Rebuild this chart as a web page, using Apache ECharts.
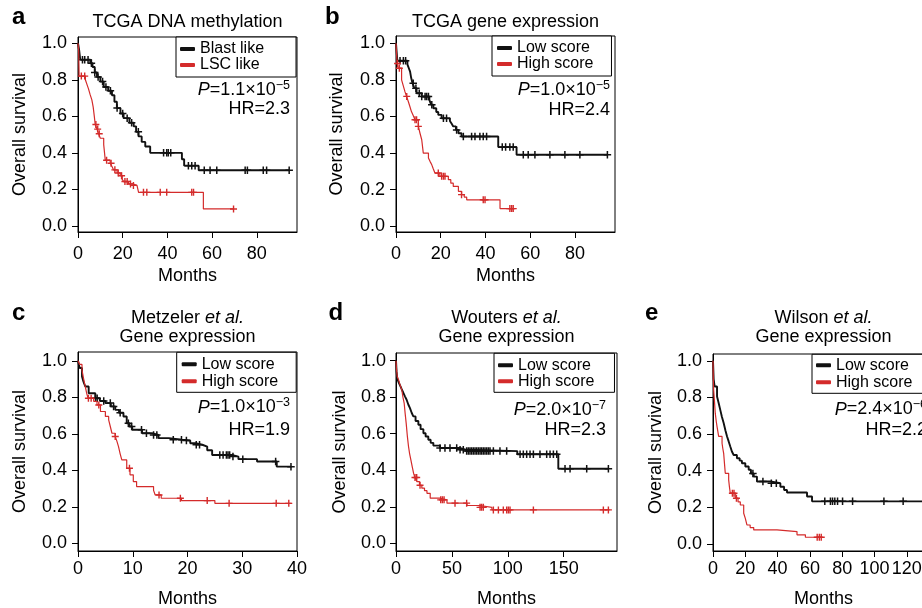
<!DOCTYPE html>
<html><head><meta charset="utf-8">
<script src="https://cdn.jsdelivr.net/npm/echarts@6/dist/echarts.min.js"></script>
<style>html,body{margin:0;padding:0;background:#fff}#c{width:922px;height:608px}</style>
</head><body><div id="c"></div>
<script>
const FONT = '"Liberation Sans", Arial, Helvetica, sans-serif';
const BLACK = '#111111', RED = '#d42b2b';

// ---------- tick labels ----------
const yTicks = [0, 0.2, 0.4, 0.6, 0.8, 1.0];
const xTicksA = [0, 20, 40, 60, 80];
const xTicksB = [0, 20, 40, 60, 80];
const xTicksC = [0, 10, 20, 30, 40];
const xTicksD = [0, 50, 100, 150];
const xTicksE = [0, 20, 40, 60, 80, 100, 120];

// ---------- texts ----------
const panelLetters = ['a', 'b', 'c', 'd', 'e'];
const titleLine1 = ['TCGA DNA methylation', 'TCGA gene expression', 'Metzeler {i|et al.}', 'Wouters {i|et al.}', 'Wilson {i|et al.}'];
const titleLine2 = ['', '', 'Gene expression', 'Gene expression', 'Gene expression'];
const seriesNames = [['Blast like', 'LSC like'], ['Low score', 'High score'], ['Low score', 'High score'], ['Low score', 'High score'], ['Low score', 'High score']];
const pMantissa = ['1.1', '1.0', '1.0', '2.0', '2.4'];
const pExponent = ['−5', '−5', '−3', '−7', '−6'];
const hrValues = ['2.3', '2.4', '1.9', '2.3', '2.2'];

// ---------- survival curves: [months, survival] after each event ----------
const aBlack = [[0,1],[0.5,0.963],[1,0.91],[5.5,0.89],[6.5,0.87],[7.5,0.84],[8.5,0.815],[10,0.79],[11.5,0.76],[13.5,0.74],[15.2,0.715],[16.3,0.68],[17.4,0.645],[19,0.615],[20.4,0.59],[23,0.565],[24.9,0.545],[26,0.515],[27.1,0.49],[28.5,0.46],[30.1,0.435],[32.3,0.4],[46.5,0.365],[47.5,0.33],[54,0.305],[94.5,0.305]];
const aBlackCensor = [2,3,4.5,6,7.5,9,11,12.5,14.5,17.5,20,22,24,27,38.3,39.7,40.4,41.5,49.4,50.9,52.4,56.5,59.1,62.1,74.8,75.8,82.9,84.4,94.5];
const aRed = [[0,1],[0.3,0.96],[0.5,0.82],[3.3,0.8],[4,0.775],[4.7,0.75],[5.4,0.72],[6.2,0.69],[6.8,0.65],[7.3,0.6],[7.7,0.555],[8.5,0.53],[9.2,0.505],[10,0.48],[11.5,0.445],[12.2,0.36],[14.4,0.343],[15.2,0.325],[15.9,0.307],[17.5,0.29],[18.9,0.275],[19.8,0.255],[20.4,0.243],[22.6,0.23],[24.5,0.222],[26.4,0.214],[27.1,0.184],[56.1,0.093],[69.6,0.093]];
const aRedCensor = [1.5,3,8,8.8,9.5,12.8,14.8,16.5,18,19.5,21,22,23.5,24.8,29.3,30.8,36.8,39.7,50.9,51.7,69.6];

const bBlack = [[0,1],[0.3,0.95],[0.6,0.905],[5.1,0.885],[5.7,0.865],[6.3,0.845],[6.8,0.81],[7.4,0.782],[8.2,0.755],[9.2,0.727],[11.5,0.709],[14.9,0.691],[15.7,0.665],[16.7,0.645],[18,0.625],[18.9,0.609],[20.4,0.59],[24.1,0.575],[24.9,0.56],[25.6,0.546],[26.8,0.527],[27.9,0.509],[29.3,0.491],[45.7,0.433],[53.9,0.391],[94.5,0.391]];
const bBlackCensor = [1.8,3.3,4.3,7.7,8.9,10.4,11.5,13,13.7,14.5,16,21.2,22.6,27.1,30.1,33.8,35.3,37.5,39,40.5,47.5,49,50.9,52.4,56.9,59.1,62.1,68.8,75.5,82.2,94.5];
const bRed = [[0,1],[0.2,0.955],[0.5,0.89],[1,0.864],[2.5,0.8],[3.2,0.77],[4,0.736],[4.7,0.71],[5.5,0.682],[6.2,0.655],[6.9,0.627],[7.7,0.605],[8.5,0.582],[10,0.546],[10.7,0.51],[11.5,0.473],[12.2,0.4],[14.5,0.373],[15.2,0.355],[16,0.336],[16.7,0.313],[17.4,0.291],[19.6,0.273],[23.4,0.255],[24.5,0.236],[25.6,0.218],[27.9,0.191],[29.3,0.173],[30.5,0.16],[31.6,0.145],[46.5,0.097],[52.4,0.097]];
const bRedCensor = [0.7,1.5,4.8,8.5,9.2,10,18.9,20.4,21.2,21.9,29.3,39,39.8,50.9,51.7,52.4];

const cBlack = [[0,1],[0.3,0.96],[0.73,0.914],[1,0.885],[1.33,0.859],[1.95,0.822],[3.16,0.795],[4,0.78],[5,0.768],[6,0.75],[6.8,0.731],[7.5,0.715],[8.3,0.695],[8.9,0.658],[9.4,0.64],[9.9,0.622],[11.7,0.603],[13.5,0.594],[14.7,0.576],[16.6,0.567],[19,0.563],[20.5,0.548],[21.5,0.54],[22.7,0.53],[23.6,0.51],[24.5,0.484],[28.1,0.475],[29.3,0.461],[32.7,0.448],[36.3,0.42],[39,0.42]];
const cBlackCensor = [3.2,3.5,4.7,5.9,6.5,7.7,9.2,9.8,11.6,12.5,13.8,14.4,17.4,18.9,19.8,21.6,22.2,25.9,26.5,27.1,27.4,27.7,28.3,30.1,36.1,38.9];
const cRed = [[0,1],[0.3,0.98],[0.73,0.95],[1,0.905],[1.33,0.859],[1.6,0.82],[1.83,0.795],[2.86,0.778],[3.47,0.758],[4.1,0.722],[5,0.695],[5.6,0.676],[5.9,0.64],[6.2,0.603],[6.8,0.585],[7.1,0.56],[7.4,0.53],[7.7,0.49],[8,0.457],[8.9,0.411],[9.5,0.375],[10.1,0.338],[10.7,0.311],[13.8,0.29],[14.1,0.265],[15.2,0.247],[18.9,0.234],[25,0.219],[39,0.219]];
const cRedCensor = [1.9,2.4,3.8,6.8,9.4,14.8,18.7,23.6,27.6,36.2,38.5];

const dBlack = [[0,1],[0.5,0.94],[1.2,0.9],[2.5,0.88],[3.6,0.865],[5,0.845],[6.5,0.825],[8,0.805],[9.5,0.786],[11,0.76],[12.5,0.74],[14,0.715],[15.5,0.695],[17.5,0.67],[20,0.649],[22,0.625],[24.5,0.603],[26.5,0.585],[28.9,0.567],[31,0.55],[33.4,0.535],[39.4,0.522],[57,0.512],[63,0.505],[108.5,0.488],[145.2,0.408],[190,0.408]];
const dBlackCensor = [39.4,43.8,48.3,54.3,57.3,60.2,63.2,64.7,66.2,67.7,69.2,70.7,72.2,73.7,75.2,76.6,78.1,79.6,81.1,82.6,84.1,87.1,93,99,111,113.9,116.9,119.9,122.9,128.8,134.8,137.8,140.8,143.8,151.2,155.7,170.6,190];
const dRed = [[0,1],[0.5,0.95],[1.2,0.91],[2.3,0.895],[3.5,0.87],[5.2,0.84],[6.2,0.8],[7.3,0.768],[8.2,0.71],[9.1,0.658],[10.1,0.59],[11.2,0.53],[12.2,0.49],[13.3,0.457],[14.5,0.42],[15.7,0.384],[17,0.36],[18.6,0.338],[21,0.318],[23.1,0.302],[25.5,0.288],[27.7,0.274],[30.6,0.247],[39.6,0.238],[45.6,0.22],[63.5,0.207],[75,0.197],[85.8,0.183],[191,0.183]];
const dRedCensor = [17,18.5,21.5,40,41.5,43,52.8,63.2,75.2,76.6,78.1,87.1,91.6,96,99,100.5,102,122.9,185.5,190];

const eBlack = [[0,1],[0.4,0.9],[1,0.86],[2.5,0.805],[3.5,0.77],[4.5,0.732],[5.5,0.695],[6.6,0.66],[7.7,0.62],[8.7,0.587],[9.7,0.56],[10.7,0.532],[11.7,0.505],[12.8,0.486],[14.8,0.468],[16.5,0.455],[17.9,0.441],[20,0.423],[22.1,0.405],[23.5,0.385],[25.2,0.368],[27.2,0.341],[35.5,0.332],[41.7,0.313],[44,0.295],[45.8,0.281],[58.2,0.259],[61.3,0.233],[136,0.233]];
const eBlackCensor = [24.7,30.9,36.1,39.2,69.2,72.7,74,75.4,77.1,80.2,86.4,105.8,117.7];
const eRed = [[0,1],[0.2,0.9],[0.4,0.842],[0.9,0.78],[1.4,0.714],[2,0.67],[2.5,0.641],[3.5,0.587],[5.6,0.55],[6.1,0.52],[6.6,0.495],[7.1,0.44],[7.6,0.386],[9.7,0.35],[10.2,0.31],[10.7,0.277],[13.8,0.25],[15.5,0.23],[16.9,0.213],[19,0.168],[20,0.14],[21,0.104],[23,0.09],[25.2,0.077],[39.6,0.068],[52,0.05],[57.2,0.037],[67.5,0.037]];
const eRedCensor = [12,13,14.5,64.5,65.8,67];

const curves = [[aBlack, aRed], [bBlack, bRed], [cBlack, cRed], [dBlack, dRed], [eBlack, eRed]];
const censors = [[aBlackCensor, aRedCensor], [bBlackCensor, bRedCensor], [cBlackCensor, cRedCensor], [dBlackCensor, dRedCensor], [eBlackCensor, eRedCensor]];
const xTicks = [xTicksA, xTicksB, xTicksC, xTicksD, xTicksE];

// ---------- layout (pixels) ----------
const layout = [
  {left:78, top:37, w:219, h:195, xMax:98, yMin:-0.033, yMax:1.034, xm:13, ym:11, xng:35, yng:49,
   lg:{left:176, top:37, pad:[4,32,4,4], gap:0}, letter:[12,17.3], title:[187.5,21.7], stat:[290,90,109.5]},
  {left:396, top:36, w:219, h:196, xMax:97.9, yMin:-0.031, yMax:1.04, xm:13, ym:11, xng:35, yng:50,
   lg:{left:492, top:36, pad:[4,18,4,5], gap:0}, letter:[325,17.8], title:[505.5,21.7], stat:[610,90,110.5]},
  {left:78, top:352, w:219, h:199, xMax:40, yMin:-0.042, yMax:1.048, xm:9.5, ym:11, xng:39, yng:49,
   lg:{left:176.7, top:352.3, pad:[4,18,3,5], gap:1}, letter:[12,313.8], title:[187.5,318.3,336.7], stat:[290,407.5,430]},
  {left:396, top:353, w:221, h:198, xMax:197.7, yMin:-0.042, yMax:1.042, xm:9.5, ym:10, xng:39, yng:47,
   lg:{left:494, top:353.3, pad:[4,20,3,4], gap:0}, letter:[328.5,313.8], title:[506.5,318.3,336.7], stat:[606,410,430]},
  {left:713, top:354, w:221, h:197, xMax:136.8, yMin:-0.038, yMax:1.037, xm:9.5, ym:11, xng:39, yng:48,
   lg:{left:812, top:354.3, pad:[3,18,3,4], gap:1}, letter:[645,313.8], title:[823.5,318.3,336.7], stat:[927,409.5,430]}
];

function survAt(steps, t) {
  let s = steps[0][1];
  for (const [ti, si] of steps) { if (ti <= t) s = si; else break; }
  return s;
}
const PLUS = 'path://M-1,-0.2H-0.2V-1H0.2V-0.2H1V0.2H0.2V1H-0.2V0.2H-1Z';
const axisText = {fontSize: 18, color: '#000', fontFamily: FONT};

const grid = [], xAxis = [], yAxis = [], series = [], legend = [], graphic = [];
layout.forEach((p, i) => {
  grid.push({left: p.left, top: p.top, width: p.w, height: p.h, show: true, borderColor: '#000', borderWidth: 1,
    backgroundColor: 'transparent', containLabel: false, outerBoundsMode: 'none'});
  xAxis.push({gridIndex: i, type: 'value', min: 0, max: p.xMax,
    axisLine: {show: true, onZero: false, lineStyle: {color: '#000', width: 1}},
    axisTick: {show: true, length: 6, lineStyle: {color: '#000', width: 1}, customValues: xTicks[i]},
    axisLabel: Object.assign({customValues: xTicks[i], margin: p.xm, hideOverlap: false, showMinLabel: true, showMaxLabel: true}, axisText),
    splitLine: {show: false},
    name: 'Months', nameLocation: 'middle', nameGap: p.xng, nameTextStyle: axisText});
  yAxis.push({gridIndex: i, type: 'value', min: p.yMin, max: p.yMax,
    axisLine: {show: true, onZero: false, lineStyle: {color: '#000', width: 1}},
    axisTick: {show: true, length: 6, lineStyle: {color: '#000', width: 1}, customValues: yTicks},
    axisLabel: Object.assign({customValues: yTicks, margin: p.ym, hideOverlap: false, formatter: v => v.toFixed(1)}, axisText),
    splitLine: {show: false},
    name: 'Overall survival', nameLocation: 'middle', nameGap: p.yng, nameTextStyle: axisText});

  const cols = [BLACK, RED], widths = [1.9, 1.2];
  [0, 1].forEach(k => {
    series.push({type: 'line', name: seriesNames[i][k], xAxisIndex: i, yAxisIndex: i, data: curves[i][k],
      step: 'end', symbol: 'none', color: cols[k], itemStyle: {color: cols[k]},
      lineStyle: {color: cols[k], width: widths[k]}, animation: false, z: 3 + k, silent: true});
    series.push({type: 'scatter', name: seriesNames[i][k] + ' censored', xAxisIndex: i, yAxisIndex: i,
      data: censors[i][k].map(t => [t, survAt(curves[i][k], t)]),
      symbol: PLUS, symbolSize: k === 0 ? 7.5 : 7, itemStyle: {color: cols[k], opacity: 1},
      animation: false, z: 3 + k, silent: true});
  });

  legend.push({data: seriesNames[i], left: p.lg.left, top: p.lg.top, orient: 'vertical', padding: p.lg.pad,
    itemGap: p.lg.gap, itemWidth: 15, itemHeight: 4, icon: 'roundRect', borderColor: '#000', borderWidth: 1,
    borderRadius: 0, backgroundColor: '#fff', selectedMode: false,
    textStyle: {fontSize: 16, fontFamily: FONT, color: '#000', lineHeight: 16}});

  graphic.push({type: 'text', x: p.letter[0], y: p.letter[1], silent: true,
    style: {text: panelLetters[i], fontSize: 24, fontWeight: 'bold', fontFamily: FONT, fill: '#000',
      textAlign: 'left', textVerticalAlign: 'middle'}});
  graphic.push({type: 'text', x: p.title[0], y: p.title[1], silent: true,
    style: {text: titleLine1[i], fontSize: 18, fontFamily: FONT, fill: '#000', textAlign: 'center', textVerticalAlign: 'middle',
      rich: {i: {fontSize: 18, fontFamily: FONT, fontStyle: 'italic', fill: '#000'}}}});
  if (titleLine2[i]) {
    graphic.push({type: 'text', x: p.title[0], y: p.title[2], silent: true,
      style: {text: titleLine2[i], fontSize: 18, fontFamily: FONT, fill: '#000', textAlign: 'center', textVerticalAlign: 'middle'}});
  }
  graphic.push({type: 'text', x: p.stat[0], y: p.stat[1], silent: true,
    style: {text: '{i|P}{n|=' + pMantissa[i] + '×10}{s|' + pExponent[i] + '}', fontSize: 18, fontFamily: FONT, fill: '#000',
      textAlign: 'right', textVerticalAlign: 'middle',
      rich: {
        i: {fontSize: 18, fontFamily: FONT, fontStyle: 'italic', fill: '#000', lineHeight: 22},
        n: {fontSize: 18, fontFamily: FONT, fill: '#000', lineHeight: 22},
        s: {fontSize: 12.5, fontFamily: FONT, fill: '#000', lineHeight: 8, verticalAlign: 'top'}
      }}});
  graphic.push({type: 'text', x: p.stat[0], y: p.stat[2], silent: true,
    style: {text: 'HR=' + hrValues[i], fontSize: 18, fontFamily: FONT, fill: '#000', textAlign: 'right', textVerticalAlign: 'middle'}});
});

const chart = echarts.init(document.getElementById('c'), null, {renderer: 'canvas'});
chart.setOption({animation: false, backgroundColor: '#fff', textStyle: {fontFamily: FONT},
  grid, xAxis, yAxis, series, legend, graphic, tooltip: {show: false}});
</script></body></html>
